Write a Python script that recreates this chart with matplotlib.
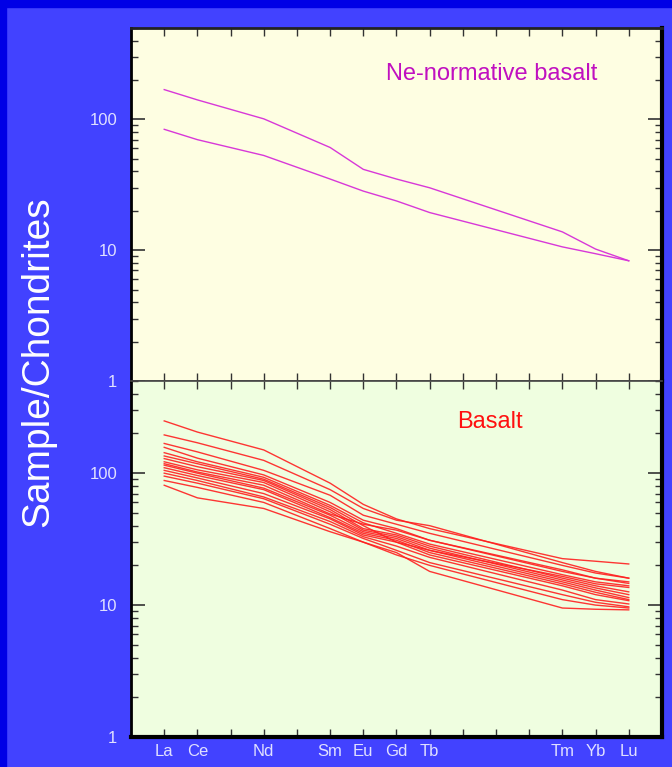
import numpy as np
import matplotlib
matplotlib.use('Agg')
import matplotlib.pyplot as plt
from matplotlib.patches import Rectangle
from matplotlib import ticker

plt.rcParams['font.family'] = ['Liberation Sans', 'DejaVu Sans']

# Tierras raras (numero atomico) que se grafican
elementos = ['La', 'Ce', 'Nd', 'Sm', 'Eu', 'Gd', 'Tb', 'Tm', 'Yb', 'Lu']
z_elementos = [57, 58, 60, 62, 63, 64, 65, 69, 70, 71]

# Etiquetas de los ticks (uno por numero atomico 57..71)
z_ticks = list(range(57, 72))
etiquetas_x = ['La', 'Ce', '', 'Nd', '', 'Sm', 'Eu', 'Gd', 'Tb', '', '', '', 'Tm', 'Yb', 'Lu']

# Ne-normative basalt (panel superior)
ne_basalto = [
    [169, 141, 101, 61, 41.5, 35, 30, 13.8, 10.2, 8.3],
    [84, 70, 53, 35, 28.3, 23.8, 19.4, 10.6, 9.4, 8.3],
]

# Basalt (panel inferior)
basalto = [
    [249, 205, 150, 84, 58, 45, 38, 22.5, 21.5, 20.5],
    [195, 170, 125, 75, 54, 44, 40, 21, 18, 16],
    [168, 145, 105, 68, 48, 41, 35, 20, 17.5, 16],
    [157, 130, 97, 60, 44, 38, 31, 18, 16, 14.6],
    [143, 122, 93, 57, 42, 35, 29, 17, 15, 14],
    [135, 118, 90, 55, 40, 30, 26, 16.5, 14.5, 13.6],
    [129, 112, 88, 53, 38, 34, 28, 16, 14, 12.6],
    [122, 106, 85, 51, 37, 33, 27, 15.5, 13.5, 12],
    [118, 102, 81, 49, 41, 37, 31, 18.5, 16, 15],
    [115, 100, 77, 48, 36, 32, 26, 15, 13, 11.4],
    [110, 96, 75, 46, 35, 31, 25, 14.5, 12.5, 11],
    [105, 92, 70, 45, 34, 30, 24, 14, 12, 10.8],
    [100, 88, 66, 43, 33, 28, 23, 13, 11, 10.2],
    [95, 84, 64, 41, 32, 26, 21, 12, 10.5, 9.7],
    [88, 78, 60, 38, 30, 24, 20, 11, 10, 9.5],
    [81, 65, 54, 36, 30, 25, 18, 9.5, 9.3, 9.2],
]

azul = '#4242ff'
texto_eje = '#e0e0ff'

fig = plt.figure(figsize=(6.72, 7.67), dpi=100, facecolor=azul)
# franjas oscuras del borde
fig.patches.append(Rectangle((0, 0.991), 1, 0.009, transform=fig.transFigure, color='#0000e6', zorder=0))
fig.patches.append(Rectangle((0, 0), 0.009, 1, transform=fig.transFigure, color='#0000e6', zorder=0))

izq, ancho = 0.195, 0.79
ax1 = fig.add_axes([izq, 0.5033, ancho, 0.4602], facecolor='#fefee2')
ax2 = fig.add_axes([izq, 0.0391, ancho, 0.4642], facecolor='#effee0')

for lin in ne_basalto:
    ax1.plot(z_elementos, lin, color='#d838d8', lw=1.0)
for lin in basalto:
    ax2.plot(z_elementos, lin, color='#ff1f1f', lw=1.0, alpha=0.9)

ax1.text(0.68, 0.87, 'Ne-normative basalt', transform=ax1.transAxes, color='#c010c0',
         fontsize=17, ha='center', va='center')
ax2.text(0.676, 0.885, 'Basalt', transform=ax2.transAxes, color='#ff1010',
         fontsize=17, ha='center', va='center')

for ax in (ax1, ax2):
    ax.set_yscale('log')
    ax.set_ylim(1, 500)
    ax.set_xlim(56, 72)
    ax.set_xticks(z_ticks)
    ax.set_yticks([1, 10, 100])
    ax.yaxis.set_major_formatter(ticker.FixedFormatter(['1', '10', '100']))
    ax.yaxis.set_minor_locator(ticker.LogLocator(base=10, subs=np.arange(2, 10)))
    ax.yaxis.set_minor_formatter(ticker.NullFormatter())
    ax.tick_params(axis='both', which='both', direction='in', color='#333333',
                   top=True, right=True, labelcolor=texto_eje, labelsize=12)
    ax.tick_params(axis='y', which='major', length=10, width=1.2, pad=10)
    ax.tick_params(axis='y', which='minor', length=5, width=1.0)
    ax.tick_params(axis='x', which='major', length=6, width=1.0, pad=5)
    for lado in ('left', 'right'):
        ax.spines[lado].set_color('black')
    ax.spines['left'].set_linewidth(2)
    ax.spines['right'].set_linewidth(3)

ax1.set_xticklabels([])
ax2.set_xticklabels(etiquetas_x)

ax1.spines['top'].set_color('#222222')
ax1.spines['top'].set_linewidth(2)
ax1.spines['bottom'].set_color('#444444')
ax1.spines['bottom'].set_linewidth(1.2)
ax2.spines['top'].set_color('#444444')
ax2.spines['top'].set_linewidth(1.2)
ax2.spines['bottom'].set_color('black')
ax2.spines['bottom'].set_linewidth(3)

fig.text(0.057, 0.528, 'Sample/Chondrites', rotation=90, color='white',
         fontsize=28, ha='center', va='center')

plt.savefig('out.png', dpi=100, facecolor=azul)
